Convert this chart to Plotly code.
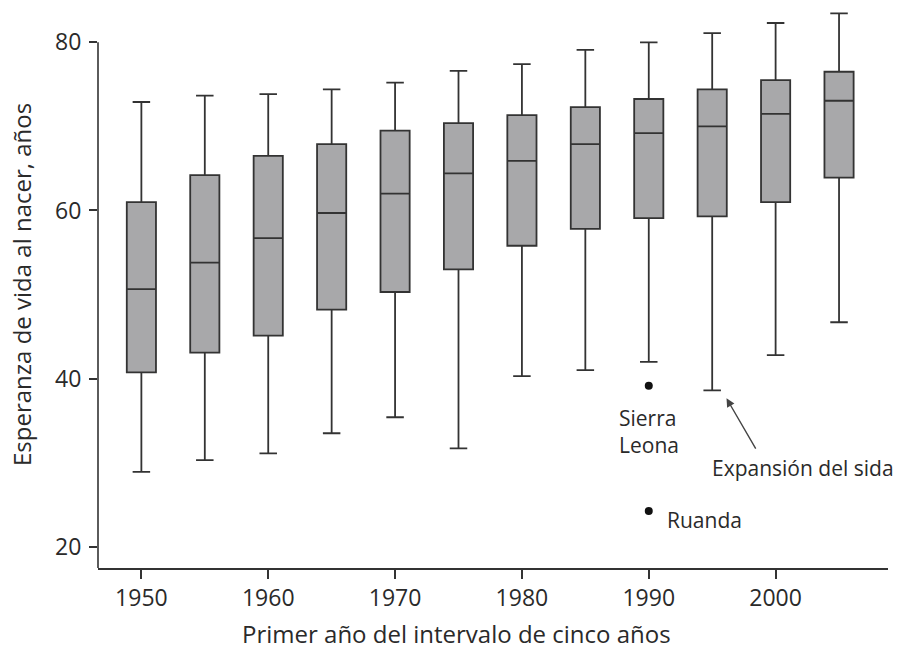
import plotly.graph_objects as go

# Data
years = [1950, 1955, 1960, 1965, 1970, 1975, 1980, 1985, 1990, 1995, 2000, 2005]
lower = [28.9, 30.3, 31.1, 33.5, 35.4, 31.7, 40.3, 41.0, 42.0, 38.6, 42.8, 46.7]
q1 = [40.75, 43.1, 45.1, 48.2, 50.3, 53.0, 55.8, 57.8, 59.1, 59.3, 61.0, 63.9]
median = [50.65, 53.8, 56.7, 59.7, 62.0, 64.4, 65.9, 67.9, 69.2, 70.0, 71.5, 73.05]
q3 = [61.0, 64.2, 66.5, 67.9, 69.5, 70.4, 71.35, 72.3, 73.26, 74.4, 75.5, 76.5]
upper = [72.9, 73.65, 73.85, 74.4, 75.2, 76.6, 77.4, 79.1, 80.0, 81.1, 82.3, 83.45]

outlier_x = [1990, 1990]
outlier_y = [39.15, 24.25]
outlier_labels = ["Sierra<br>Leona", "Ruanda"]

xtick_vals = [1950, 1960, 1970, 1980, 1990, 2000]
ytick_vals = [20, 40, 60, 80]

FONT = "Open Sans"
TXT = "#2a2a2a"
LINE = "#333333"

fig = go.Figure()
fig.add_trace(go.Box(
    x=years, q1=q1, median=median, q3=q3,
    lowerfence=lower, upperfence=upper,
    boxpoints=False,
    width=2.3,
    whiskerwidth=0.6,
    fillcolor="#a8a8aa",
    line=dict(color=LINE, width=1.8),
    showlegend=False,
    hoverinfo="skip",
))
fig.add_trace(go.Scatter(
    x=outlier_x, y=outlier_y, mode="markers",
    marker=dict(color="#111111", size=8),
    showlegend=False, hoverinfo="skip",
))

y_bottom = 17.47
y_top = 84.44

fig.update_layout(
    width=901, height=650,
    margin=dict(l=98, r=13, t=5, b=82),
    paper_bgcolor="white", plot_bgcolor="white",
    font=dict(family=FONT, color=TXT, size=24),
    xaxis=dict(
        range=[1946.58, 2008.86],
        tickvals=xtick_vals,
        ticktext=[str(v) for v in xtick_vals],
        showgrid=False, zeroline=False,
        showline=True, linecolor=LINE, linewidth=1.6,
        ticks="outside", ticklen=9, tickwidth=1.6, tickcolor=LINE,
        tickfont=dict(size=23, family=FONT, color=TXT),
    ),
    yaxis=dict(
        range=[y_bottom, y_top],
        tickvals=ytick_vals,
        showgrid=False, zeroline=False, showline=False,
        ticks="outside", ticklen=8, tickwidth=1.6, tickcolor=LINE,
        tickfont=dict(size=23, family=FONT, color=TXT),
        ticklabelstandoff=3,
    ),
    shapes=[dict(type="line", xref="paper", yref="y", x0=0, x1=0,
                 y0=y_bottom, y1=80, line=dict(color=LINE, width=1.6))],
)

annotations = [
    dict(text="Primer año del intervalo de cinco años", xref="paper", yref="paper",
         x=0.454, y=-0.1155, xanchor="center", yanchor="middle", showarrow=False,
         font=dict(size=24, family=FONT, color=TXT)),
    dict(text="Esperanza de vida al nacer, años", xref="paper", yref="paper",
         x=-0.0962, y=0.5027, xanchor="center", yanchor="middle", textangle=-90,
         showarrow=False, font=dict(size=24, family=FONT, color=TXT)),
    dict(text=outlier_labels[0], x=1990, y=33.65, xref="x", yref="y",
         xanchor="center", yanchor="middle", showarrow=False, align="left",
         font=dict(size=21, family=FONT, color=TXT)),
    dict(text=outlier_labels[1], x=1994.36, y=23.18, xref="x", yref="y",
         xanchor="center", yanchor="middle", showarrow=False,
         font=dict(size=21, family=FONT, color=TXT)),
    dict(text="Expansión del sida", x=2002.18, y=29.36, xref="x", yref="y",
         xanchor="center", yanchor="middle", showarrow=False,
         font=dict(size=21, family=FONT, color=TXT)),
    dict(text="", x=1996.13, y=37.65, ax=1998.5, ay=31.5, xref="x", yref="y",
         axref="x", ayref="y", showarrow=True, arrowhead=2, arrowsize=1.2,
         arrowwidth=1.4, arrowcolor="#444444", standoff=0),
]
fig.update_layout(annotations=annotations)

fig.write_html("out.html")
